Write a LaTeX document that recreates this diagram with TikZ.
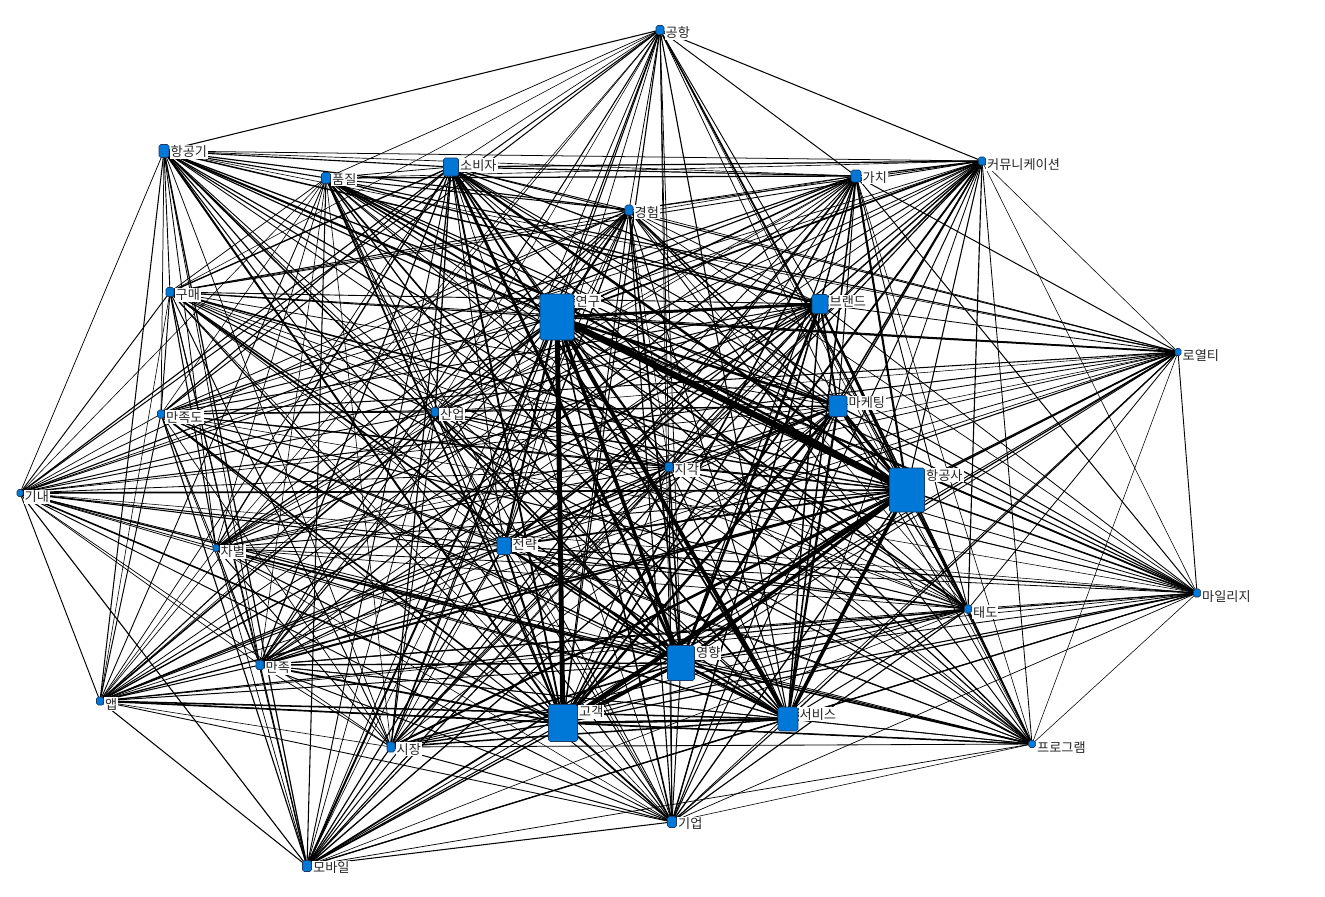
\documentclass[tikz,border=0pt]{standalone}
\usepackage{fontspec}
\newfontfamily\kr{Noto Sans CJK KR}
\usetikzlibrary{backgrounds}
\definecolor{NodeBlue}{RGB}{0,120,215}
\definecolor{NodeRim}{RGB}{25,60,105}
% keyword weights, index = node number
\def\wts{{0, .35,.7,1.3,.7,.6,.8,.6,.6,3,1.3, .45,.5,.5,1.3,.5,3,.45,.5,1,.6, .45,.6,2.5,.6,2.5,1.7,.6,.5,.6,.7}}

\begin{document}
\begin{tikzpicture}[
    x=0.02cm, y=-0.02cm,
    term/.style={draw=NodeRim, fill=NodeBlue, rounded corners=1pt, inner sep=0pt, line width=0.3pt},
    sz/.style 2 args={minimum width=#1*0.02cm, minimum height=#2*0.02cm},
    tag/.style={font=\kr\fontsize{7.5}{8}\selectfont, fill=white, inner sep=0.6pt, anchor=north west, text=black!85}
  ]
    \useasboundingbox (0,0) rectangle (1325,896);

    % Keywords (top)
    \node[term, sz={8}{9},   label={[tag]north east:공항}] (n1) at (660,30) {};
    \node[term, sz={10}{13}, label={[tag]north east:항공기}] (n2) at (164,151) {};
    \node[term, sz={15}{18}, label={[tag]north east:소비자}] (n3) at (451,167) {};
    \node[term, sz={9}{11},  label={[tag]north east:품질}] (n4) at (326,178) {};
    \node[term, sz={8}{10},  label={[tag]north east:경험}] (n5) at (629,210) {};
    \node[term, sz={10}{12}, label={[tag]north east:가치}] (n6) at (856,176) {};
    \node[term, sz={7}{8},   label={[tag]north east:커뮤니케이션}] (n7) at (982,161) {};
    \node[term, sz={8}{9},   label={[tag]north east:구매}] (n8) at (170,292) {};

    % Keywords (middle)
    \node[term, sz={34}{46}, label={[tag]north east:연구}] (n9) at (557,317) {};
    \node[term, sz={16}{19}, label={[tag]north east:브랜드}] (n10) at (820,304) {};
    \node[term, sz={6}{7},   label={[tag]north east:로열티}] (n11) at (1178,352) {};
    \node[term, sz={7}{8},   label={[tag]north east:만족도}] (n12) at (161,414) {};
    \node[term, sz={7}{9},   label={[tag]north east:산업}] (n13) at (435,412) {};
    \node[term, sz={18}{21}, label={[tag]north east:마케팅}] (n14) at (838,406) {};
    \node[term, sz={8}{9},   label={[tag]north east:지각}] (n15) at (669,467) {};
    \node[term, sz={35}{44}, label={[tag]north east:항공사}] (n16) at (907,490) {};
    \node[term, sz={6}{7},   label={[tag]north east:기내}] (n17) at (20,493) {};
    \node[term, sz={6}{7},   label={[tag]north east:차별}] (n18) at (216,548) {};
    \node[term, sz={14}{17}, label={[tag]north east:전략}] (n19) at (504,546) {};
    \node[term, sz={7}{8},   label={[tag]north east:태도}] (n20) at (968,609) {};
    \node[term, sz={7}{8},   label={[tag]north east:마일리지}] (n21) at (1197,593) {};

    % Keywords (bottom)
    \node[term, sz={8}{9},   label={[tag]north east:만족}] (n22) at (260,665) {};
    \node[term, sz={27}{35}, label={[tag]north east:영향}] (n23) at (681,663) {};
    \node[term, sz={7}{8},   label={[tag]north east:앱}] (n24) at (100,701) {};
    \node[term, sz={29}{37}, label={[tag]north east:고객}] (n25) at (563,723) {};
    \node[term, sz={20}{24}, label={[tag]north east:서비스}] (n26) at (788,719) {};
    \node[term, sz={8}{10},  label={[tag]north east:시장}] (n27) at (391,747) {};
    \node[term, sz={7}{7},   label={[tag]north east:프로그램}] (n28) at (1032,744) {};
    \node[term, sz={9}{11},  label={[tag]north east:기업}] (n29) at (672,822) {};
    \node[term, sz={9}{11},  label={[tag]north east:모바일}] (n30) at (307,866) {};

    % Co-occurrence links (공항 has none to 로열티 / 마일리지)
    \begin{scope}[on background layer]
      \foreach \i in {1,...,29} {
        \pgfmathtruncatemacro\first{\i+1}
        \foreach \j in {\first,...,30} {
          \pgfmathtruncatemacro\gap{(\i==1)&&((\j==11)||(\j==21))}
          \pgfmathsetmacro\lw{(0.4+0.27*\wts[\i]*\wts[\j])*(0.7+0.15*mod(\i*7+\j*11,5))}
          \ifnum\gap=0 \draw[line width=\lw pt] (n\i.center) -- (n\j.center); \fi
        }
      }
    \end{scope}
  \end{tikzpicture}
\end{document}
